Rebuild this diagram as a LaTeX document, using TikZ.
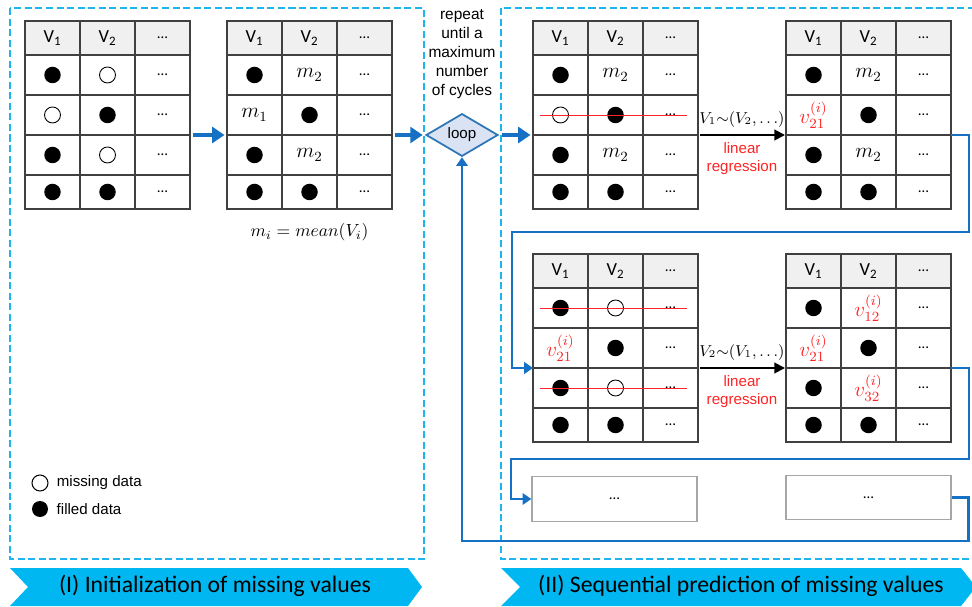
\documentclass[tikz,border=0pt]{standalone}
\usepackage{amsmath}
\usepackage{fontspec}
\setmainfont{Carlito}
\newfontfamily\arialf{Liberation Sans}
\usetikzlibrary{arrows.meta,positioning,calc,shapes.geometric}
\definecolor{dashBlue}{RGB}{30,180,238}
\definecolor{bandBlue}{RGB}{0,183,241}
\definecolor{flowBlue}{RGB}{22,112,196}
\definecolor{loopFill}{RGB}{218,227,243}
\definecolor{loopLine}{RGB}{46,117,182}
\definecolor{fitRed}{RGB}{255,35,35}
\definecolor{gridGray}{RGB}{64,64,64}
\definecolor{headGray}{RGB}{240,240,240}

\newcommand{\fd}{\tikz\fill[black] (0,0) circle (0.165cm);}
\newcommand{\od}{\tikz\draw[black,line width=0.5pt] (0,0) circle (0.16cm);}
\newcommand{\vimp}[1]{\textcolor{fitRed}{$v^{(i)}_{#1}$}}
\newcommand{\dotsize}{\fontsize{8.5}{10}\selectfont}

% one data table: name, top left corner, rows
\newcommand{\datatable}[3]{%
  \begin{scope}[shift={#2}]
    \node[head] (#1-0-1) at (27.5,17) {V\textsubscript{1}};
    \node[head] (#1-0-2) at (82.5,17) {V\textsubscript{2}};
    \node[head,font=\dotsize] (#1-0-3) at (137.5,17) {\textellipsis};
    \foreach \r/\yc/\h/\a/\b in {#3} {
      \node[cell,minimum height=\h*0.02cm] (#1-\r-1) at (27.5,\yc) {\a};
      \node[cell,minimum height=\h*0.02cm] (#1-\r-2) at (82.5,\yc) {\b};
      \node[cell,minimum height=\h*0.02cm,font=\dotsize] (#1-\r-3) at (137.5,\yc) {\textellipsis};
    }
  \end{scope}}

\begin{document}
\begin{tikzpicture}[
  x=0.02cm, y=-0.02cm,
  cell/.style={draw=gridGray,line width=0.8pt,minimum width=1.1cm,inner sep=0pt,outer sep=0pt,
    font=\fontsize{12}{14}\selectfont},
  head/.style={cell,fill=headGray,minimum height=0.68cm,font=\fontsize{10.5}{12}\selectfont},
  flow/.style={draw=flowBlue,line width=2.2pt,-{Triangle[length=7pt,width=9pt]},
    shorten <=0.06cm,shorten >=0.05cm},
  link/.style={draw=flowBlue,line width=1.4pt,-{Triangle[length=5pt,width=6.5pt]}},
  fit/.style={draw=black,line width=1.1pt,-{Triangle[length=6pt,width=6pt]},
    shorten <=0.04cm,shorten >=0.02cm},
  strike/.style={draw=fitRed,line width=0.5pt},
  frame/.style={draw=dashBlue,line width=1.1pt,dash pattern=on 4pt off 2pt},
  band/.style={fill=bandBlue},
  bandtxt/.style={font=\fontsize{13.5}{16}\selectfont},
  note/.style={font=\arialf\fontsize{8.6}{10.6}\selectfont,align=center,inner sep=0pt},
  redlab/.style={note,text=fitRed,font=\arialf\fontsize{8.6}{10.2}\selectfont},
  mathlab/.style={font=\fontsize{10}{12}\selectfont,inner sep=0pt},
  loopbox/.style={diamond,draw=loopLine,fill=loopFill,line width=1pt,inner sep=0pt,
    minimum width=1.44cm,minimum height=0.82cm,font=\arialf\fontsize{8.6}{10}\selectfont},
  dotsbox/.style={draw=gray!70,line width=0.8pt,minimum width=3.3cm,minimum height=0.89cm,
    inner sep=0pt,font=\dotsize}
]
  \useasboundingbox (0,0) rectangle (972,607);

  % dashed frames
  \draw[frame] (10,8) rectangle (424,559);
  \draw[frame] (975,8) -- (501,8) -- (501,559) -- (975,559);

  % (I) initialization
  \datatable{t1}{(25,21)}{1/54/40/\fd/\od, 2/94/40/\od/\fd, 3/134/40/\fd/\od, 4/171/34/\fd/\fd}
  \datatable{t2}{(227,21)}{1/54/40/\fd/$m_2$, 2/94/40/$m_1$/\fd, 3/134/40/\fd/$m_2$, 4/171/34/\fd/\fd}
  \node[mathlab,below=0.28cm of t2-4-2] (meanlab) {$m_i = mean(V_i)$};
  \draw[flow] (t1-3-3.north east) -- (t2-3-1.north west);

  % legend
  \node[circle,draw=black,line width=0.6pt,minimum size=0.32cm,inner sep=0pt] (miss) at (40,483) {};
  \node[note,anchor=west,right=0.16cm of miss] (misslab) {missing data};
  \node[circle,fill=black,minimum size=0.32cm,inner sep=0pt] (full) at (40,509) {};
  \node[note,anchor=west,right=0.16cm of full] (fulllab) {filled data};

  % loop
  \node[loopbox] (loop) at (462,135) {loop};
  \node[note,font=\arialf\fontsize{8.8}{10.8}\selectfont] (repeat) at (462,54)
    {repeat\\until a\\maximum\\number\\of cycles};
  \draw[flow] (t2-3-3.north east) -- (loop.west);

  % (II) sequential prediction
  \datatable{t3}{(533,21)}{1/54/40/\fd/$m_2$, 2/94/40/\od/\fd, 3/134/40/\fd/$m_2$, 4/171/34/\fd/\fd}
  \datatable{t4}{(786,21)}{1/54/40/\fd/$m_2$, 2/94/40/\vimp{21}/\fd, 3/134/40/\fd/$m_2$, 4/171/34/\fd/\fd}
  \datatable{t5}{(533,254)}{1/54/40/\fd/\od, 2/94/40/\vimp{21}/\fd, 3/134/40/\fd/\od, 4/171/34/\fd/\fd}
  \datatable{t6}{(786,254)}{1/54/40/\fd/\vimp{12}, 2/94/40/\vimp{21}/\fd, 3/134/40/\fd/\vimp{32}, 4/171/34/\fd/\fd}
  \draw[flow] (loop.east) -- (t3-3-1.north west);

  \draw[strike] ($(t3-2-1.west)+(7,0)$) -- ($(t3-2-3.east)+(-11,0)$);
  \draw[strike] ($(t5-1-1.west)+(7,0)$) -- ($(t5-1-3.east)+(-11,0)$);
  \draw[strike] ($(t5-3-1.west)+(7,0)$) -- ($(t5-3-3.east)+(-11,0)$);

  \draw[fit] (t3-3-3.north east) -- node[mathlab,above=4pt,font=\fontsize{9}{11}\selectfont] {$V_1{\sim}(V_2,\ldots)$}
    node[redlab,below=4pt] {linear\\regression} (t4-3-1.north west);
  \draw[fit] (t5-3-3.north east) -- node[mathlab,above=4pt,font=\fontsize{9}{11}\selectfont] {$V_2{\sim}(V_1,\ldots)$}
    node[redlab,below=4pt] {linear\\regression} (t6-3-1.north west);

  \node[dotsbox] (more1) at (614.5,499) {\textellipsis};
  \node[dotsbox] (more2) at (868.5,497.5) {\textellipsis};

  % routing back
  \coordinate (turn1) at (512,232);
  \coordinate (turn2) at (511,459);
  \coordinate (back) at (462,541);
  \draw[link] (t4-3-3.north east) -- ++(18,0) |- (turn1) |- (t5-3-1.north west);
  \draw[link] (t6-3-3.north east) -- ++(18,0) |- (turn2) |- (more1.west);
  \draw[link] (more2.east) -- ++(17,0) |- (back) -- (loop.south);

  % banners
  \path[band] (10,568) -- (408,568) -- (422,587) -- (408,606) -- (10,606) -- (28,587) -- cycle;
  \node[bandtxt] (band1) at (215,586) {(I) Initialization of missing values};
  \path[band] (501,568) -- (961,568) -- (976,587) -- (961,606) -- (501,606) -- (520,587) -- cycle;
  \node[bandtxt] (band2) at (741,586) {(II) Sequential prediction of missing values};
\end{tikzpicture}
\end{document}
